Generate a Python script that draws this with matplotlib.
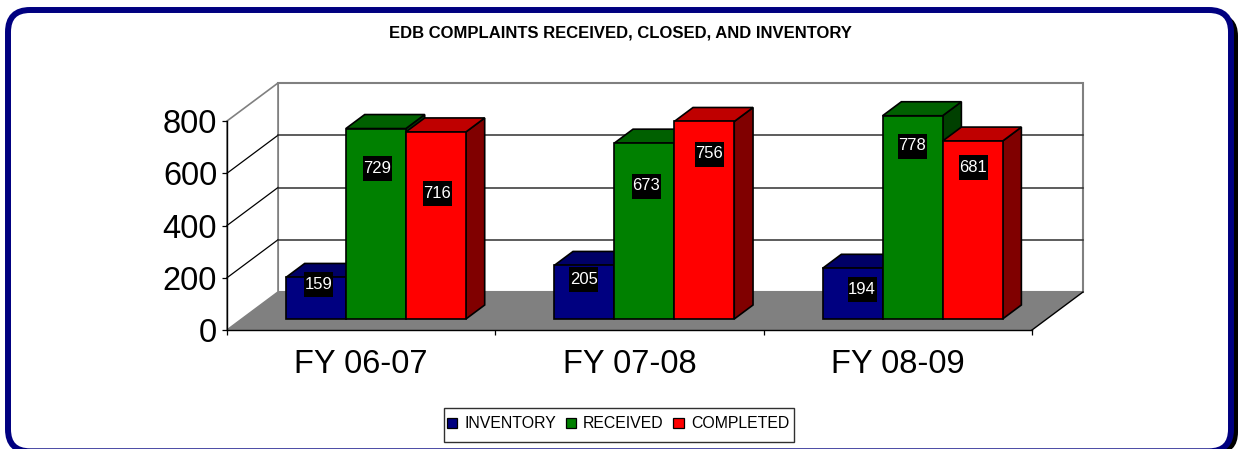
#!/usr/bin/env python

import matplotlib
matplotlib.use("Agg")
import matplotlib.pyplot as plt
from matplotlib.patches import FancyBboxPatch, Patch, Polygon, Rectangle
from matplotlib.transforms import Affine2D

W = 1239
H = 449

title = "EDB COMPLAINTS RECEIVED, CLOSED, AND INVENTORY"
years = ["FY 06-07", "FY 07-08", "FY 08-09"]
series_names = ["INVENTORY", "RECEIVED", "COMPLETED"]
inventory = [159, 205, 194]
received = [729, 673, 778]
completed = [716, 756, 681]
y_ticks = [0, 200, 400, 600, 800]

# where the value boxes sit in the picture, pixels
label_x = [[318.5, 583.7, 862], [377.5, 646, 912], [437.5, 709, 973]]
label_y = [[284.5, 279, 289], [168.5, 186, 146], [193, 154, 167]]

front = ["#000080", "#008000", "#FF0000"]
top = ["#000066", "#006000", "#BF0000"]
side = ["#000040", "#004000", "#800000"]

plt.rcParams["font.family"] = ["Liberation Sans", "DejaVu Sans"]

fig = plt.figure(figsize=(W / 100, H / 100), dpi=100)
px = Affine2D().scale(1 / W, -1 / H).translate(0, 1) + fig.transFigure

# frame with shadow
fig.add_artist(FancyBboxPatch((12, 14), 1226, 440, boxstyle="round,pad=0,rounding_size=22",
	transform=px, fc="black", ec="black", lw=0, zorder=-3))
fig.add_artist(FancyBboxPatch((8, 10), 1223, 441.3, boxstyle="round,pad=0,rounding_size=22",
	transform=px, fc="white", ec="#000080", lw=4.3, zorder=-2))

ax = fig.add_axes([227 / W, (H - 330) / H, 805 / W, 209 / H])
ax.set_xlim(0, 3)
ax.set_ylim(0, 800)
ax.patch.set_alpha(0)

# how far the floor goes back, in data units
DX = 51 / (805 / 3)
DY = 38 / (209 / 800)

def p(x, v, d):
	return (x + d * DX, v + d * DY)

def poly(pts, fc, ec="black", lw=1.2, z=2):
	ax.add_patch(Polygon(pts, closed=True, fc=fc, ec=ec, lw=lw, zorder=z, clip_on=False, joinstyle="miter"))

# walls and floor
poly([p(0, 0, 1), p(3, 0, 1), p(3, 800, 1), p(0, 800, 1)], "white", "#808080", 1.5, 1)
poly([p(0, 0, 0), p(0, 0, 1), p(0, 800, 1), p(0, 800, 0)], "white", "#808080", 1.2, 1)
for v in y_ticks[1:-1]:
	ax.plot(*zip(p(0, v, 0), p(0, v, 1)), color="black", lw=0.9, zorder=1.5, clip_on=False)
	ax.plot(*zip(p(0, v, 1), p(3, v, 1)), color="#303030", lw=1.1, zorder=1.5, clip_on=False)
poly([p(0, 0, 0), p(3, 0, 0), p(3, 0, 1), p(0, 0, 1)], "#808080", "none", 0, 1.6)
ax.plot(*zip(p(3, 0, 0), p(3, 0, 1)), color="black", lw=1, zorder=1.7, clip_on=False)

# bars
bar_w = 60 / (805 / 3)
gap = 0.1645
d0 = 11 / 38
d1 = 25 / 38
z = 2
for i in range(len(years)):
	for k, values in enumerate([inventory, received, completed]):
		v = values[i]
		x0 = i + gap + k * bar_w
		x1 = x0 + bar_w
		poly([p(x1, 0, d0), p(x1, 0, d1), p(x1, v, d1), p(x1, v, d0)], side[k], z=z)
		poly([p(x0, v, d0), p(x1, v, d0), p(x1, v, d1), p(x0, v, d1)], top[k], z=z)
		poly([p(x0, 0, d0), p(x1, 0, d0), p(x1, v, d0), p(x0, v, d0)], front[k], z=z + 0.5)
		z += 1
		fig.add_artist(Rectangle((label_x[k][i] - 14.5, label_y[k][i] - 12.5), 29, 25, transform=px,
			fc="black", ec="none", zorder=9))
		fig.text(label_x[k][i], label_y[k][i], str(v), transform=px, color="white", fontsize=12,
			ha="center", va="center", zorder=10)

# axes
for s in ["top", "right"]:
	ax.spines[s].set_visible(False)
for s in ["left", "bottom"]:
	ax.spines[s].set_linewidth(1)
	ax.spines[s].set_zorder(1.8)
ax.set_yticks(y_ticks)
ax.set_xticks([0, 1, 2, 3])
ax.set_xticklabels([])
ax.set_xticks([0.5, 1.5, 2.5], minor=True)
ax.set_xticklabels(years, minor=True)
ax.tick_params(axis="x", which="major", length=3.6, width=0.9)
ax.tick_params(axis="x", which="minor", length=0, labelsize=23.5, pad=14)
ax.tick_params(axis="y", length=3.6, width=0.9, labelsize=23.5, pad=3.5)

fig.text(620.5, 33, title, transform=px, fontsize=12, fontweight="bold", ha="center", va="center")

# legend box is drawn on its own, its height does not follow the legend padding
fig.add_artist(Rectangle((443.5, 407.5), 350, 34, transform=px, fc="none", ec="#303030", lw=1, zorder=1))
handles = [Patch(fc=front[k], ec="black", lw=0.9) for k in range(3)]
ax.legend(handles, series_names, ncol=3, loc="center", bbox_to_anchor=(618, 424), bbox_transform=px,
	fontsize=11.4, frameon=False,
	handlelength=0.66, handleheight=0.66, handletextpad=0.45, columnspacing=0.6,
	borderpad=0, borderaxespad=0)

plt.savefig("out.png", dpi=100)
